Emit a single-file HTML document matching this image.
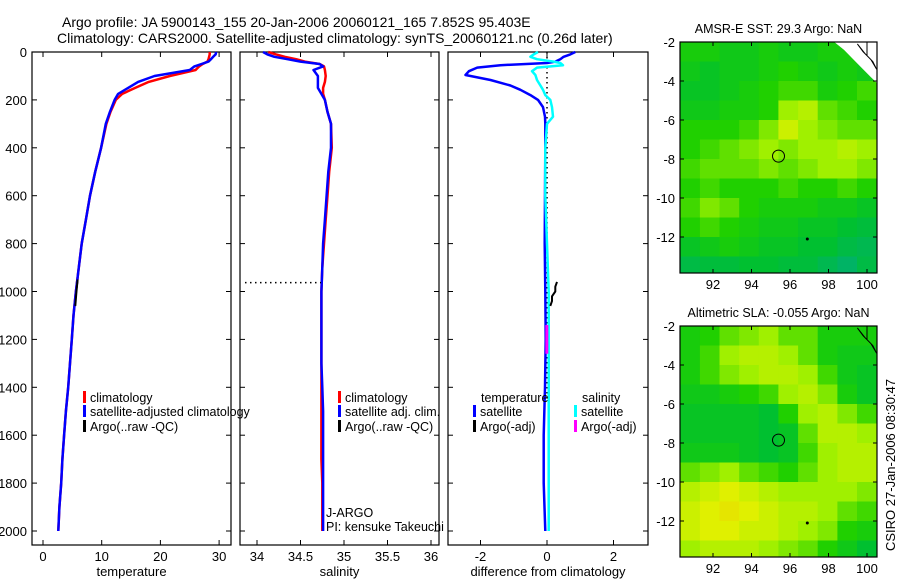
<!DOCTYPE html>
<html><head><meta charset="utf-8">
<style>
html,body{margin:0;padding:0;background:#fff;}
svg{display:block;font-family:"Liberation Sans",sans-serif;}
text{fill:#000;}
</style></head>
<body>
<svg id="fig" width="900" height="580" viewBox="0 0 900 580" xmlns="http://www.w3.org/2000/svg">
<text x="62" y="27" font-size="14">Argo profile: JA 5900143_155 20-Jan-2006 20060121_165 7.852S 95.403E</text>
<text x="57" y="43" font-size="14">Climatology: CARS2000. Satellite-adjusted climatology: synTS_20060121.nc (0.26d later)</text>
<g id="g1"></g>
<g id="g2"></g>
<g id="g3"></g>
<g id="m1"></g>
<g id="m2"></g>
<text transform="translate(895,465) rotate(-90)" text-anchor="middle" font-size="13">CSIRO 27-Jan-2006 08:30:47</text>
</svg>
<script>
const depths=[0,10,20,30,40,50,60,75,100,125,150,175,200,250,300,400,500,600,700,800,900,1000,1100,1200,1300,1400,1500,1600,1700,1800,1900,2000];
const tempClim=[28.4,28.4,28.3,28.2,28.0,27.2,26.6,26.0,21.6,18.0,15.7,13.5,12.4,11.5,10.8,9.9,8.9,8.0,7.3,6.6,6.1,5.6,5.2,4.9,4.6,4.3,3.9,3.6,3.3,3.1,2.8,2.6];
const tempSat=[29.5,29.4,29.0,28.6,28.2,27.0,25.8,25.0,19.0,16.2,14.5,12.8,12.2,11.4,10.7,9.9,8.9,8.0,7.3,6.6,6.1,5.6,5.2,4.9,4.6,4.3,3.9,3.6,3.3,3.1,2.8,2.6];
const salClim=[34.13,34.22,34.32,34.45,34.55,34.72,34.77,34.78,34.79,34.78,34.76,34.76,34.78,34.81,34.85,34.86,34.83,34.81,34.79,34.77,34.75,34.74,34.74,34.74,34.74,34.74,34.74,34.74,34.74,34.75,34.75,34.75];
const salSat=[34.07,34.12,34.2,34.35,34.5,34.72,34.76,34.65,34.70,34.70,34.70,34.74,34.78,34.81,34.85,34.85,34.82,34.80,34.78,34.76,34.75,34.74,34.74,34.74,34.74,34.75,34.76,34.76,34.76,34.76,34.76,34.76];
const diffDepths=[0,10,20,30,40,46,55,65,80,96,117,140,158,180,200,230,270,300,400,600,800,1000,1200,1400,1600,1800,2000];
const tempDiff=[0.85,0.7,0.5,0.4,0.25,0.0,-1.4,-2.1,-2.35,-2.45,-1.7,-1.1,-0.8,-0.5,-0.27,-0.12,-0.06,-0.05,-0.05,-0.06,-0.07,-0.05,-0.04,-0.06,-0.1,-0.1,-0.05];
const salDiff=[-0.27,-0.4,-0.5,-0.3,0.2,0.4,0.48,-0.3,-0.45,-0.35,-0.3,-0.2,-0.12,-0.05,0.1,0.15,0.18,0.0,-0.05,-0.05,0.0,0.05,0.05,0.05,0.05,0.05,0.05];
const argoTDepth=[960,980,1000,1020,1040,1060];
const argoTDiff=[0.3,0.25,0.25,0.15,0.15,0.1];
const depthTicks=[0,200,400,600,800,1000,1200,1400,1600,1800,2000];
const tTicks=[0,10,20,30];
const sTicks=[34,34.5,35,35.5,36];
const dTicks=[-2,0,2];
const lonTicks=[92,94,96,98,100];
const latTicks=[-2,-4,-6,-8,-10,-12];
const sstGrid=[
[.45,.45,.4,.4,.45,.4,.4,.45,.45,.4],
[.4,.35,.4,.4,.45,.5,.45,.4,.45,.4],
[.35,.35,.4,.45,.5,.55,.55,.45,.5,.55],
[.4,.4,.45,.45,.5,.7,.75,.6,.55,.5],
[.5,.5,.5,.55,.65,.8,.7,.65,.6,.6],
[.5,.55,.6,.65,.7,.65,.7,.7,.75,.7],
[.55,.6,.6,.6,.65,.6,.65,.7,.7,.65],
[.5,.55,.5,.5,.5,.55,.5,.5,.55,.5],
[.55,.65,.6,.5,.45,.45,.45,.4,.4,.35],
[.5,.55,.5,.45,.4,.4,.35,.35,.3,.25],
[.35,.4,.45,.4,.35,.35,.3,.3,.2,.15],
[.2,.25,.25,.3,.3,.25,.25,.15,.05,.2]];
const slaGrid=[
[.45,.5,.6,.65,.7,.6,.6,.45,.45,.45],
[.45,.55,.7,.75,.75,.7,.6,.45,.4,.4],
[.45,.55,.65,.7,.75,.75,.7,.55,.4,.35],
[.4,.4,.45,.5,.55,.7,.75,.65,.45,.35],
[.35,.35,.35,.35,.3,.5,.7,.75,.65,.55],
[.35,.35,.35,.35,.3,.35,.6,.75,.75,.7],
[.4,.4,.4,.35,.3,.35,.55,.7,.75,.75],
[.6,.65,.7,.6,.55,.5,.6,.7,.75,.75],
[.75,.8,.85,.8,.75,.7,.7,.7,.7,.65],
[.8,.85,.9,.85,.8,.75,.75,.7,.6,.55],
[.8,.85,.85,.8,.8,.75,.7,.65,.5,.45],
[.7,.75,.75,.75,.7,.65,.6,.5,.4,.3]];
const floatLon=95.403, floatLat=-7.852;

const NS='http://www.w3.org/2000/svg';
function mk(p,tag,at){const e=document.createElementNS(NS,tag);for(const k in at)e.setAttribute(k,at[k]);p.appendChild(e);return e;}
const yTop=52, pxPerM=479/2000, yBot=545;
const Y=d=>yTop+d*pxPerM;
function panel(g,x0,x1,scale,ticks,label,leftLabels){
  const r=mk(g,'rect',{x:x0,y:yTop,width:x1-x0,height:yBot-yTop,fill:'none',stroke:'#000','stroke-width':1.2});
  
  depthTicks.forEach(d=>{
    mk(g,'line',{x1:x0,x2:x0+5,y1:Y(d),y2:Y(d),stroke:'#000'});
    mk(g,'line',{x1:x1,x2:x1-5,y1:Y(d),y2:Y(d),stroke:'#000'});
    if(leftLabels){const t=mk(g,'text',{x:27,y:Y(d)+5,'text-anchor':'end','font-size':13});t.textContent=d;
      }
  });
  ticks.forEach(v=>{
    const x=scale(v);
    mk(g,'line',{x1:x,x2:x,y1:yBot,y2:yBot-5,stroke:'#000'});
    mk(g,'line',{x1:x,x2:x,y1:yTop,y2:yTop+5,stroke:'#000'});
    const t=mk(g,'text',{x:x,y:561,'text-anchor':'middle','font-size':13});t.textContent=v;
    
  });
  const t=mk(g,'text',{x:(x0+x1)/2,y:576,'text-anchor':'middle','font-size':13});t.textContent=label;
  
}
function line(g,xs,ds,scale,col,name,w){
  const pts=xs.map((v,i)=>scale(v).toFixed(1)+','+Y(ds[i]).toFixed(1)).join(' ');
  const p=mk(g,'polyline',{points:pts,fill:'none',stroke:col,'stroke-width':w||2.5,'stroke-linejoin':'round'});
  
}
function legend(g,x,y,col,txt,nm){
  if(col)mk(g,'rect',{x:x,y:y-10,width:3,height:12,fill:col});
  const t=mk(g,'text',{x:x+(col?7:0),y:y+1,'font-size':12.5});t.textContent=txt;
  
}
// Panel 1
const g1=document.getElementById('g1');
const sT=v=>43+5.87*v;
panel(g1,32,231,sT,tTicks,'temperature',true);
line(g1,tempClim,depths,sT,'#f00','temp-climatology-line');
line(g1,tempSat,depths,sT,'#00f','temp-satellite-line');
mk(g1,'polyline',{points:[[sT(5.9),Y(950)],[sT(5.7),Y(1000)],[sT(5.5),Y(1060)]].map(p=>p.join(',')).join(' '),fill:'none',stroke:'#000','stroke-width':2});
legend(g1,83,401,'#f00','climatology','legend-climatology');
legend(g1,83,415,'#00f','satellite-adjusted climatology','legend-satellite');
legend(g1,83,430,'#000','Argo(..raw -QC)','legend-argo');
// Panel 2
const g2=document.getElementById('g2');
const sS=v=>257+87*(v-34);
panel(g2,240,439,sS,sTicks,'salinity',false);
line(g2,salClim,depths,sS,'#f00','sal-climatology-line');
line(g2,salSat,depths,sS,'#00f','sal-satellite-line');
mk(g2,'line',{x1:245,x2:321,y1:Y(963),y2:Y(963),stroke:'#000','stroke-width':1.5,'stroke-dasharray':'1.5,3.5'});
legend(g2,338,401,'#f00','climatology','legend-climatology-sal');
legend(g2,338,415,'#00f','satellite adj. clim.','legend-satellite-sal');
legend(g2,338,430,'#000','Argo(..raw -QC)','legend-argo-sal');
legend(g2,326,516,null,'J-ARGO','agency-label');
legend(g2,326,530,null,'PI: kensuke Takeuchi','pi-label');
// Panel 3
const g3=document.getElementById('g3');
const sD=v=>547+33.25*v;
panel(g3,448,648,sD,dTicks,'difference from climatology',false);
mk(g3,'line',{x1:sD(0),x2:sD(0),y1:yTop,y2:Y(1450),stroke:'#000','stroke-width':1.5,'stroke-dasharray':'1.5,3.5'});
line(g3,tempDiff,diffDepths,sD,'#00f','temp-diff-line');
line(g3,salDiff,diffDepths,sD,'#0ff','sal-diff-line');
line(g3,argoTDiff,argoTDepth,sD,'#000','argo-temp-diff',2);
mk(g3,'rect',{x:sD(-0.05),y:Y(1140),width:3,height:Y(1260)-Y(1140),fill:'#f0f'});
legend(g3,481,401,null,'temperature','legend-temperature-header');
legend(g3,473,415,'#00f','satellite','legend-temp-satellite');
legend(g3,473,430,'#000','Argo(-adj)','legend-temp-argo');
legend(g3,582,401,null,'salinity','legend-salinity-header');
legend(g3,574,415,'#0ff','satellite','legend-sal-satellite');
legend(g3,574,430,'#f0f','Argo(-adj)','legend-sal-argo');
// Maps
const stops=[[0,[0,176,112]],[.3,[0,192,48]],[.5,[32,208,0]],[.7,[160,240,0]],[.85,[224,240,0]],[1,[240,208,0]]];
function cmap(v){for(let i=1;i<stops.length;i++){if(v<=stops[i][0]){const a=stops[i-1],b=stops[i],t=(v-a[0])/(b[0]-a[0]);return 'rgb('+a[1].map((c,k)=>Math.round(c+(b[1][k]-c)*t)).join(',')+')';}}return 'rgb(240,208,0)';}
function map(id,top,grid,title){
  const g=document.getElementById(id);
  const L=680,R=877,B=top+231;
  const X=lon=>713+(lon-92)*19.25, YY=lat=>top+(-2-lat)*19.5;
  grid.forEach((row,r)=>row.forEach((v,c)=>{
    const x=X(90.3+c*1.02),y=YY(-2-r);
    const cell=mk(g,'rect',{x:x.toFixed(1),y:y.toFixed(1),width:20.2,height:Math.min(20,B-y),fill:cmap(v)});
    
  }));
  if(id==='m1')mk(g,'polygon',{points:`${X(98.3)},${top} ${R},${top} ${R},${YY(-4.1)} ${X(100.2)},${YY(-3.8)} ${X(99.5)},${YY(-3.1)} ${X(98.8)},${YY(-2.4)}`,fill:'#fff'});
  mk(g,'polygon',{points:`${X(99.5)},${YY(-2.1)} ${X(99.8)},${YY(-2.5)} ${X(100.2)},${YY(-2.9)} ${X(100.5)},${YY(-3.4)} ${X(100.3)},${YY(-3.0)} ${X(99.9)},${YY(-2.6)}`,fill:'#f0c090',stroke:'#000','stroke-width':1});
  mk(g,'line',{x1:X(100),x2:X(100),y1:top,y2:YY(-2.7),stroke:'#000'});
  mk(g,'circle',{cx:X(96.9),cy:YY(-12.1),r:1.5,fill:'#000'});
  const c=mk(g,'circle',{cx:X(floatLon),cy:YY(floatLat),r:6,fill:'none',stroke:'#000','stroke-width':1});
  
  mk(g,'rect',{x:L,y:top,width:R-L,height:B-top,fill:'none',stroke:'#000','stroke-width':1.2});
  latTicks.forEach(v=>{const y=YY(v);mk(g,'line',{x1:L,x2:L+4,y1:y,y2:y,stroke:'#000'});mk(g,'line',{x1:R,x2:R-4,y1:y,y2:y,stroke:'#000'});
    const t=mk(g,'text',{x:675,y:y+5,'text-anchor':'end','font-size':13});t.textContent=v;
    });
  lonTicks.forEach(v=>{const x=X(v);mk(g,'line',{x1:x,x2:x,y1:B,y2:B-4,stroke:'#000'});mk(g,'line',{x1:x,x2:x,y1:top,y2:top+4,stroke:'#000'});
    const t=mk(g,'text',{x:x,y:B+16,'text-anchor':'middle','font-size':13});t.textContent=v;
    });
  const t=mk(g,'text',{x:(L+R)/2,y:top-9,'text-anchor':'middle','font-size':12.5});t.textContent=title;
  
}
map('m1',42,sstGrid,'AMSR-E SST: 29.3 Argo: NaN');
map('m2',326,slaGrid,'Altimetric SLA: -0.055 Argo: NaN');
</script>
</body></html>
